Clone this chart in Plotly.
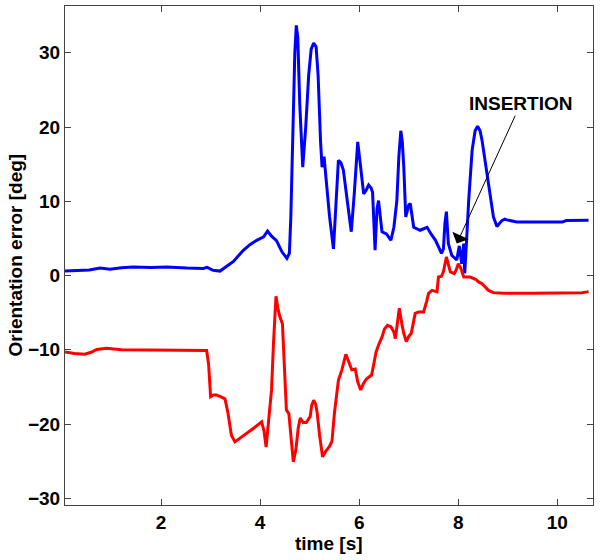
import plotly.graph_objects as go

# Blue series (time [s], orientation error [deg])
blue_t = [0.06, 0.36, 0.55, 0.77, 0.97, 1.2, 1.43, 1.8, 2.11, 2.52, 2.85, 2.93, 3.05, 3.19, 3.32,
          3.46, 3.66, 3.8, 3.93, 4.07, 4.15, 4.23, 4.33, 4.44, 4.54, 4.59, 4.62, 4.66, 4.70, 4.73,
          4.76, 4.80, 4.86, 4.92, 4.98, 5.03, 5.08, 5.13, 5.17, 5.22, 5.25, 5.29, 5.33, 5.40, 5.48,
          5.53, 5.58, 5.63, 5.68, 5.76, 5.84, 5.90, 5.97, 6.02, 6.09, 6.14, 6.19, 6.24, 6.27, 6.32,
          6.36, 6.39, 6.46, 6.55, 6.64, 6.70, 6.76, 6.80, 6.84, 6.87, 6.90, 6.94, 7.00, 7.03, 7.10,
          7.23, 7.30, 7.37, 7.45, 7.54, 7.62, 7.66, 7.70, 7.73, 7.76, 7.80, 7.87, 7.97, 8.02, 8.07,
          8.11, 8.13, 8.17, 8.21, 8.28, 8.34, 8.39, 8.44, 8.48, 8.55, 8.61, 8.71, 8.78, 8.88, 8.94,
          8.98, 9.18, 9.6, 10.1, 10.18, 10.5, 10.63]
blue_v = [0.6, 0.7, 0.75, 1.0, 0.85, 1.05, 1.15, 1.1, 1.15, 1.0, 0.95, 1.1, 0.7, 0.6, 1.2,
          1.9, 3.4, 4.2, 4.75, 5.2, 6.0, 5.3, 4.7, 3.2, 2.3, 3.0, 8.0, 20, 30, 33.7,
          32, 23, 14.6, 20, 27, 30.5, 31.3, 30.8, 27, 18, 14.6, 16, 13, 8, 3.6,
          10, 15.5, 15.2, 14.2, 10, 5.9, 11, 18.0, 15.1, 11.0, 11.5, 12.2, 11.8, 11.2, 3.4,
          9, 10.1, 5.9, 5.6, 4.75, 6.5, 10.1, 16, 19.5, 18, 14.6, 7.9, 9.5, 9.7, 6.5,
          6.1, 6.3, 6.5, 5.6, 4.75, 3.6, 3.0, 3.6, 7, 8.6, 4.3, 2.7, 2.1, 4.0, 1.6,
          4.3, 0.3, 5, 10.1, 16.9, 19.5, 20.1, 19.5, 18.2, 15, 12.4, 7.9, 6.6, 7.4, 7.6,
          7.5, 7.2, 7.2, 7.2, 7.4, 7.4, 7.45]

# Red series
red_t = [0.06, 0.25, 0.46, 0.6, 0.70, 0.9, 1.2, 2.2, 2.3, 2.92, 2.96, 3.00, 3.05, 3.12, 3.20,
         3.29, 3.35, 3.42, 3.49, 3.6, 3.86, 4.03, 4.08, 4.12, 4.17, 4.23, 4.27, 4.30, 4.32, 4.36,
         4.40, 4.45, 4.49, 4.53, 4.58, 4.63, 4.67, 4.72, 4.77, 4.81, 4.87, 4.93, 5.01, 5.04, 5.08,
         5.12, 5.15, 5.20, 5.26, 5.33, 5.40, 5.45, 5.50, 5.58, 5.65, 5.73, 5.79, 5.85, 5.92, 5.97,
         6.03, 6.09, 6.15, 6.25, 6.30, 6.34, 6.40, 6.46, 6.51, 6.57, 6.64, 6.70, 6.73, 6.77, 6.81,
         6.86, 6.90, 6.95, 7.00, 7.05, 7.10, 7.13, 7.20, 7.30, 7.36, 7.40, 7.47, 7.57, 7.60, 7.66,
         7.70, 7.73, 7.76, 7.80, 7.84, 7.92, 7.96, 8.00, 8.05, 8.11, 8.24, 8.35, 8.41, 8.48, 8.61,
         8.71, 8.91, 9.5, 9.99, 10.05, 10.5, 10.6, 10.63]
red_v = [-10.3, -10.5, -10.6, -10.3, -9.96, -9.8, -10.0, -10.0, -10.1, -10.1, -12, -16.3, -16.1, -16.1, -16.3,
         -16.6, -18.5, -21.5, -22.4, -21.9, -20.6, -19.7, -21, -23.1, -20, -15.4, -9, -4, -2.8, -4.5,
         -5.6, -6.5, -12, -18.1, -18.6, -22, -25.1, -23.5, -20.5, -19.2, -19.8, -19.8, -19.0, -17.5, -16.8,
         -17.3, -18.4, -21.5, -24.4, -23.6, -23.0, -22.3, -18.5, -14.1, -12.7, -10.6, -11.8, -12.7, -12.6, -14.3,
         -15.4, -14.5, -13.9, -13.4, -11.7, -10.3, -9.2, -8.3, -7.2, -6.7, -6.9, -7.6, -8.5, -6.5, -4.4,
         -6.5, -7.8, -8.9, -8.2, -7.8, -6.2, -5.1, -4.9, -4.9, -3.5, -2.4, -2.0, -2.2, -0.2, -0.1,
         0.5, 1.8, 2.5, 1.5, 0.5, 0.27, 0.8, 1.6, 1.0, -0.2, -0.2, -0.5, -0.86, -1.1, -2.0,
         -2.3, -2.4, -2.4, -2.4, -2.3, -2.3, -2.2, -2.15]

x_ticks = [2, 4, 6, 8, 10]
y_ticks = [-30, -20, -10, 0, 10, 20, 30]

x_title = "time [s]"
y_title = "Orientation error [deg]"
annot_text = "INSERTION"
annot_head = (7.97, 4.3)
annot_tail = (9.26, 23.15)

FONT = "Liberation Sans, Arial, Helvetica, sans-serif"
bold = lambda s: dict(family=FONT, size=s, color="black", weight="bold")

fig = go.Figure()
fig.add_trace(go.Scatter(x=blue_t, y=blue_v, mode="lines",
                         line=dict(color="#0000FF", width=3), showlegend=False))
fig.add_trace(go.Scatter(x=red_t, y=red_v, mode="lines",
                         line=dict(color="#FF0000", width=3), showlegend=False))

fig.add_annotation(x=annot_head[0], y=annot_head[1], ax=annot_tail[0], ay=annot_tail[1],
                   xref="x", yref="y", axref="x", ayref="y",
                   text=annot_text, showarrow=True, arrowhead=1, arrowsize=3,
                   arrowwidth=1, arrowcolor="black", font=bold(19))

# Axis titles placed explicitly
fig.add_annotation(text=x_title, xref="paper", yref="paper", x=0.5, y=0,
                   yshift=-38, xanchor="center", yanchor="middle",
                   showarrow=False, font=bold(19))
fig.add_annotation(text=y_title, xref="paper", yref="paper", x=0, y=0.5,
                   xshift=-50, xanchor="center", yanchor="middle", textangle=-90,
                   showarrow=False, font=bold(19))

axis_common = dict(showline=True, linecolor="#444444", linewidth=1, mirror="ticks",
                   ticks="inside", ticklen=6, tickcolor="#444444", showgrid=False,
                   zeroline=False, automargin=False, tickfont=bold(19))

fig.update_xaxes(range=[0.06, 10.72], tickvals=x_ticks, **axis_common)
fig.update_yaxes(range=[-30.9, 36.3], tickvals=y_ticks, **axis_common)

fig.update_layout(width=600, height=560, margin=dict(l=65, r=7, t=6, b=55, autoexpand=False),
                  plot_bgcolor="white", paper_bgcolor="white")

fig.write_html("out.html", config={"displayModeBar": False},
               post_script="document.body.style.margin='0';document.body.style.overflow='hidden';")
